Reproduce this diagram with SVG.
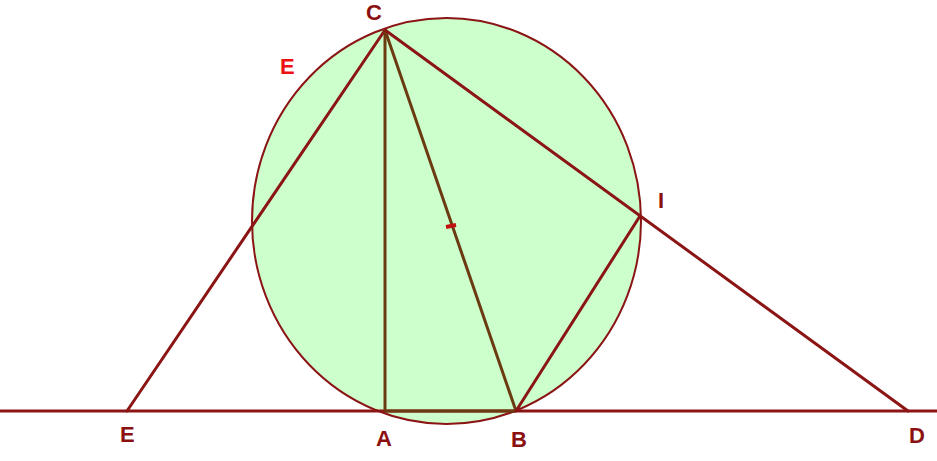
<svg xmlns="http://www.w3.org/2000/svg" width="937" height="461" viewBox="0 0 937 461">
  <style>
    .ln { stroke: #8b1414; stroke-width: 3; fill: none; stroke-linecap: round; }
    .br { stroke: #6b3a10; stroke-width: 3; fill: none; }
    .lbl { font-family: "Liberation Sans", Arial, sans-serif; font-weight: bold; font-size: 22px; fill: #8b1010; }
  </style>
  <rect width="937" height="461" fill="#ffffff"/>
  <g id="circle">
    <ellipse cx="446.5" cy="221" rx="194.5" ry="203" fill="#ccffcc" stroke="#8b1414" stroke-width="2"/>
  </g>
  <g id="connectors">
    <line class="ln" x1="0" y1="411" x2="937" y2="411"/>
    <line class="br" x1="385" y1="411" x2="516" y2="411"/>
    <line class="ln" x1="385" y1="30" x2="127" y2="411"/>
    <line class="br" x1="385" y1="30" x2="385" y2="411"/>
    <line class="br" x1="385" y1="30" x2="516" y2="411"/>
    <line class="ln" x1="385" y1="30" x2="908" y2="411"/>
    <line class="ln" x1="640" y1="216" x2="516" y2="411"/>
    <line x1="446" y1="227" x2="456" y2="225" stroke="#c01010" stroke-width="4"/>
  </g>
  <g id="C"><text class="lbl" x="366" y="20">C</text></g>
  <g id="circleLabel"><text class="lbl" x="280" y="74" style="fill:#ee1111">E</text></g>
  <g id="I"><text class="lbl" x="658" y="208">I</text></g>
  <g id="E"><text class="lbl" x="120" y="442">E</text></g>
  <g id="A"><text class="lbl" x="376" y="446">A</text></g>
  <g id="B"><text class="lbl" x="511" y="447">B</text></g>
  <g id="D"><text class="lbl" x="909" y="443">D</text></g>
</svg>
